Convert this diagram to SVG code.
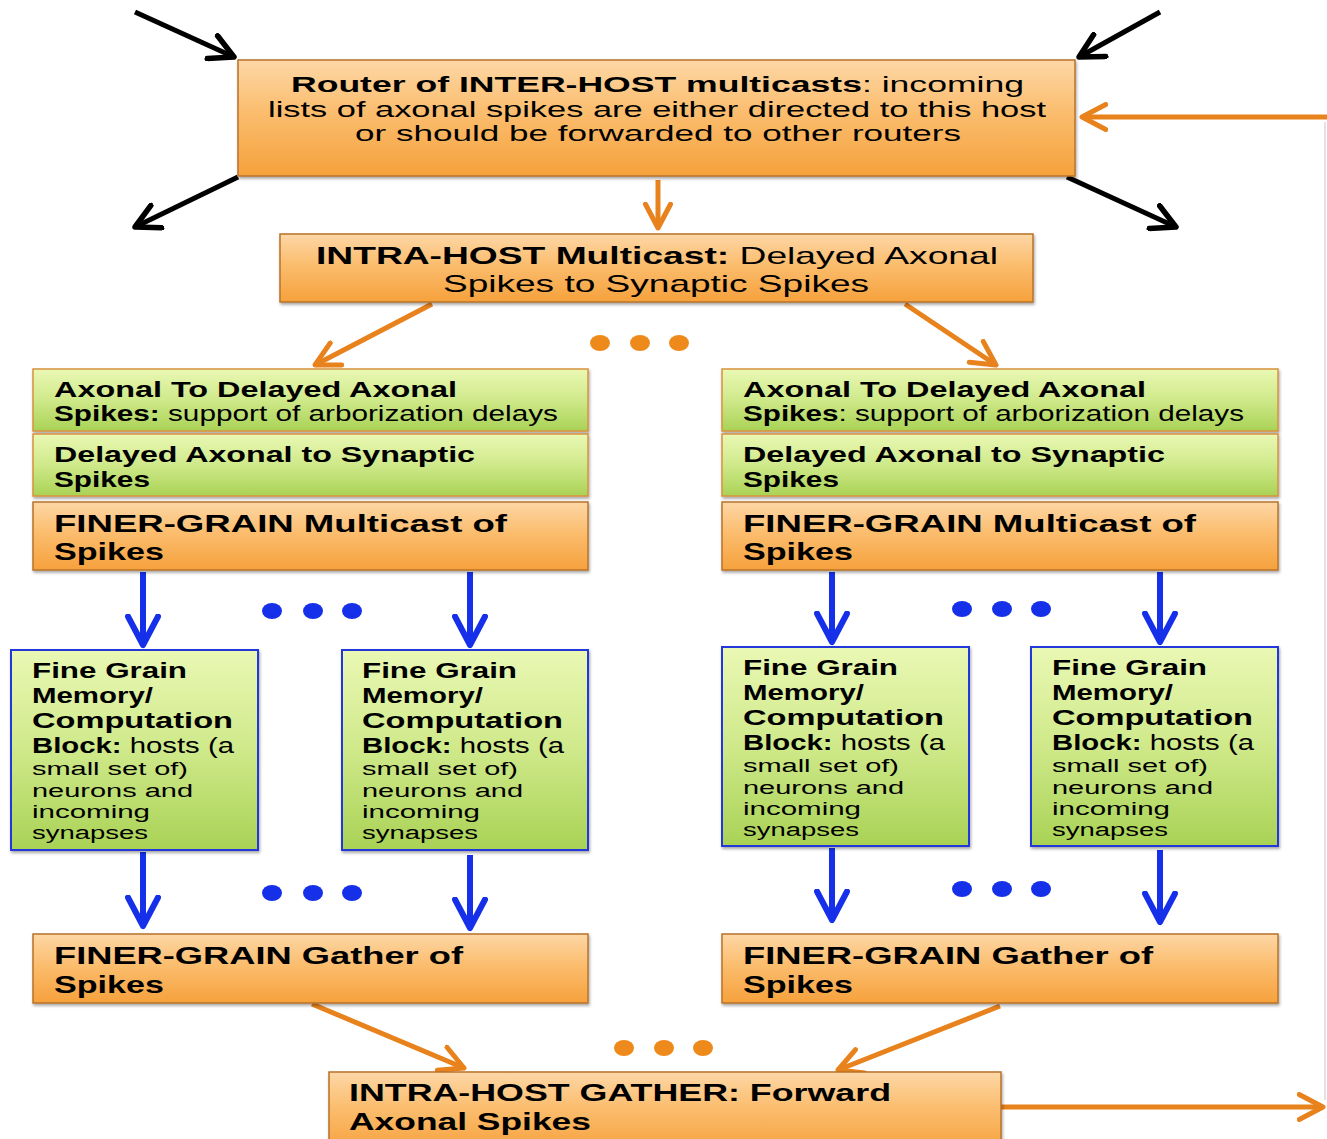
<svg xmlns="http://www.w3.org/2000/svg" width="1327" height="1139" viewBox="0 0 1327 1139">
<defs>
<linearGradient id="gO" x1="0" y1="0" x2="0" y2="1">
<stop offset="0" stop-color="#fdd7a6"/><stop offset="0.45" stop-color="#fbbd6e"/><stop offset="1" stop-color="#f6a13c"/>
</linearGradient>
<linearGradient id="gG" x1="0" y1="0" x2="0" y2="1">
<stop offset="0" stop-color="#eaf8b4"/><stop offset="0.5" stop-color="#cfe98a"/><stop offset="1" stop-color="#a9d255"/>
</linearGradient>
<filter id="sh" x="-5%" y="-5%" width="110%" height="120%">
<feDropShadow dx="1" dy="2" stdDeviation="1.5" flood-color="#000" flood-opacity="0.35"/>
</filter>
<marker id="mK" viewBox="0 0 12 12" refX="10.5" refY="6" markerWidth="6" markerHeight="6" orient="auto" markerUnits="strokeWidth">
<path d="M1,1 L10.5,6 L1,11" fill="none" stroke="#000" stroke-width="2.2" stroke-linecap="round" stroke-linejoin="round"/>
</marker>
<marker id="mO" viewBox="0 0 12 12" refX="10.5" refY="6" markerWidth="6" markerHeight="6" orient="auto" markerUnits="strokeWidth">
<path d="M1,1 L10.5,6 L1,11" fill="none" stroke="#e8821c" stroke-width="2" stroke-linecap="round" stroke-linejoin="round"/>
</marker>
<marker id="mB" viewBox="0 0 12 12" refX="10.5" refY="6" markerWidth="6" markerHeight="6" orient="auto" markerUnits="strokeWidth">
<path d="M1,1 L10.5,6 L1,11" fill="none" stroke="#1530e8" stroke-width="2" stroke-linecap="round" stroke-linejoin="round"/>
</marker>
</defs>
<style>
.or{fill:url(#gO);stroke:#b8732a;stroke-width:1.5;filter:url(#sh)}
.gr{fill:url(#gG);stroke:#d8923e;stroke-width:1.5;filter:url(#sh)}
.gb{fill:url(#gG);stroke:#2038d8;stroke-width:2;filter:url(#sh)}
text{font-family:"Liberation Sans",Arial,sans-serif;fill:#000}
.t24{font-size:24px}
.t22{font-size:22px}
.t18{font-size:18px}
.b{font-weight:bold}
.kl{stroke:#000;stroke-width:5;fill:none;marker-end:url(#mK)}
.ol{stroke:#e8821c;stroke-width:5;fill:none;marker-end:url(#mO)}
.bl{stroke:#1530e8;stroke-width:6;fill:none;marker-end:url(#mB)}
.od{fill:#ee8a1c}
.bd{fill:#1530e8}
</style>
<rect width="1327" height="1139" fill="#fff"/>
<line x1="1325" y1="122" x2="1325" y2="1100" stroke="#e2e2e2" stroke-width="2"/>

<g id="connectors">
<line class="kl" x1="135" y1="12" x2="234" y2="57"/>
<line class="kl" x1="1160" y1="12" x2="1079" y2="57"/>
<line class="kl" x1="238" y1="177" x2="135" y2="227"/>
<line class="kl" x1="1067" y1="177" x2="1176" y2="227"/>
<line class="ol" x1="1327" y1="117" x2="1082" y2="117"/>
<line class="ol" x1="658" y1="180" x2="658" y2="228"/>
<line class="ol" x1="432" y1="304" x2="315" y2="365"/>
<line class="ol" x1="905" y1="304" x2="996" y2="365"/>
<line class="bl" x1="143" y1="572" x2="143" y2="645"/>
<line class="bl" x1="470" y1="572" x2="470" y2="645"/>
<line class="bl" x1="832" y1="572" x2="832" y2="642"/>
<line class="bl" x1="1160" y1="572" x2="1160" y2="642"/>
<line class="bl" x1="143" y1="852" x2="143" y2="926"/>
<line class="bl" x1="470" y1="855" x2="470" y2="928"/>
<line class="bl" x1="832" y1="848" x2="832" y2="920"/>
<line class="bl" x1="1160" y1="850" x2="1160" y2="922"/>
<line class="ol" x1="312" y1="1004" x2="464" y2="1068"/>
<line class="ol" x1="1000" y1="1006" x2="838" y2="1070"/>
<line class="ol" x1="1001" y1="1107" x2="1323" y2="1107"/>
<ellipse class="od" cx="600" cy="343" rx="10" ry="8"/>
<ellipse class="od" cx="640" cy="343" rx="10" ry="8"/>
<ellipse class="od" cx="679" cy="343" rx="10" ry="8"/>
<ellipse class="bd" cx="272" cy="611" rx="10" ry="8"/>
<ellipse class="bd" cx="313" cy="611" rx="10" ry="8"/>
<ellipse class="bd" cx="352" cy="611" rx="10" ry="8"/>
<ellipse class="bd" cx="962" cy="609" rx="10" ry="8"/>
<ellipse class="bd" cx="1002" cy="609" rx="10" ry="8"/>
<ellipse class="bd" cx="1041" cy="609" rx="10" ry="8"/>
<ellipse class="bd" cx="272" cy="893" rx="10" ry="8"/>
<ellipse class="bd" cx="313" cy="893" rx="10" ry="8"/>
<ellipse class="bd" cx="352" cy="893" rx="10" ry="8"/>
<ellipse class="bd" cx="962" cy="889" rx="10" ry="8"/>
<ellipse class="bd" cx="1002" cy="889" rx="10" ry="8"/>
<ellipse class="bd" cx="1041" cy="889" rx="10" ry="8"/>
<ellipse class="od" cx="624" cy="1048" rx="10" ry="8"/>
<ellipse class="od" cx="664" cy="1048" rx="10" ry="8"/>
<ellipse class="od" cx="703" cy="1048" rx="10" ry="8"/>
</g>

<g id="router">
<rect class="or" x="238" y="60" width="837" height="116"/>
<text class="t22" x="291" y="92" textLength="733" lengthAdjust="spacingAndGlyphs"><tspan class="b">Router of INTER-HOST multicasts</tspan>: incoming</text>
<text class="t22" x="268" y="117" textLength="778" lengthAdjust="spacingAndGlyphs">lists of axonal spikes are either directed to this host</text>
<text class="t22" x="355" y="141" textLength="606" lengthAdjust="spacingAndGlyphs">or should be forwarded to other routers</text>
</g>

<g id="intra-multicast">
<rect class="or" x="280" y="234" width="753" height="68"/>
<text class="t24" x="316" y="264" textLength="682" lengthAdjust="spacingAndGlyphs"><tspan class="b">INTRA-HOST Multicast:</tspan> Delayed Axonal</text>
<text class="t24" x="443" y="292" textLength="426" lengthAdjust="spacingAndGlyphs">Spikes to Synaptic Spikes</text>
</g>

<g id="left-delay">
<rect class="gr" x="33" y="369" width="555" height="62"/>
<text class="t22 b" x="54" y="397" textLength="403" lengthAdjust="spacingAndGlyphs">Axonal To Delayed Axonal</text>
<text class="t22" x="54" y="421" textLength="504" lengthAdjust="spacingAndGlyphs"><tspan class="b">Spikes:</tspan> support of arborization delays</text>
</g>
<g id="left-synaptic">
<rect class="gr" x="33" y="434" width="555" height="62"/>
<text class="t22 b" x="54" y="462" textLength="421" lengthAdjust="spacingAndGlyphs">Delayed Axonal to Synaptic</text>
<text class="t22 b" x="54" y="487" textLength="96" lengthAdjust="spacingAndGlyphs">Spikes</text>
</g>
<g id="left-finer-multicast">
<rect class="or" x="33" y="502" width="555" height="68"/>
<text class="t24 b" x="54" y="532" textLength="453" lengthAdjust="spacingAndGlyphs">FINER-GRAIN Multicast of</text>
<text class="t24 b" x="54" y="560" textLength="110" lengthAdjust="spacingAndGlyphs">Spikes</text>
</g>

<g id="right-delay">
<rect class="gr" x="722" y="369" width="556" height="62"/>
<text class="t22 b" x="743" y="397" textLength="403" lengthAdjust="spacingAndGlyphs">Axonal To Delayed Axonal</text>
<text class="t22" x="743" y="421" textLength="501" lengthAdjust="spacingAndGlyphs"><tspan class="b">Spikes</tspan>: support of arborization delays</text>
</g>
<g id="right-synaptic">
<rect class="gr" x="722" y="434" width="556" height="62"/>
<text class="t22 b" x="743" y="462" textLength="422" lengthAdjust="spacingAndGlyphs">Delayed Axonal to Synaptic</text>
<text class="t22 b" x="743" y="487" textLength="96" lengthAdjust="spacingAndGlyphs">Spikes</text>
</g>
<g id="right-finer-multicast">
<rect class="or" x="722" y="502" width="556" height="68"/>
<text class="t24 b" x="743" y="532" textLength="453" lengthAdjust="spacingAndGlyphs">FINER-GRAIN Multicast of</text>
<text class="t24 b" x="743" y="560" textLength="110" lengthAdjust="spacingAndGlyphs">Spikes</text>
</g>

<g id="block-l1">
<rect class="gb" x="11" y="650" width="247" height="200"/>
<text class="t22 b" x="32" y="678" textLength="155" lengthAdjust="spacingAndGlyphs">Fine Grain</text>
<text class="t22 b" x="32" y="703" textLength="121" lengthAdjust="spacingAndGlyphs">Memory/</text>
<text class="t22 b" x="32" y="728" textLength="201" lengthAdjust="spacingAndGlyphs">Computation</text>
<text class="t22" x="32" y="753" textLength="202" lengthAdjust="spacingAndGlyphs"><tspan class="b">Block:</tspan> hosts (a</text>
<text class="t18" x="32" y="775" textLength="156" lengthAdjust="spacingAndGlyphs">small set of)</text>
<text class="t18" x="32" y="797" textLength="161" lengthAdjust="spacingAndGlyphs">neurons and</text>
<text class="t18" x="32" y="818" textLength="118" lengthAdjust="spacingAndGlyphs">incoming</text>
<text class="t18" x="32" y="839" textLength="116" lengthAdjust="spacingAndGlyphs">synapses</text>
</g>
<g id="block-l2">
<rect class="gb" x="342" y="650" width="246" height="200"/>
<text class="t22 b" x="362" y="678" textLength="155" lengthAdjust="spacingAndGlyphs">Fine Grain</text>
<text class="t22 b" x="362" y="703" textLength="121" lengthAdjust="spacingAndGlyphs">Memory/</text>
<text class="t22 b" x="362" y="728" textLength="201" lengthAdjust="spacingAndGlyphs">Computation</text>
<text class="t22" x="362" y="753" textLength="202" lengthAdjust="spacingAndGlyphs"><tspan class="b">Block:</tspan> hosts (a</text>
<text class="t18" x="362" y="775" textLength="156" lengthAdjust="spacingAndGlyphs">small set of)</text>
<text class="t18" x="362" y="797" textLength="161" lengthAdjust="spacingAndGlyphs">neurons and</text>
<text class="t18" x="362" y="818" textLength="118" lengthAdjust="spacingAndGlyphs">incoming</text>
<text class="t18" x="362" y="839" textLength="116" lengthAdjust="spacingAndGlyphs">synapses</text>
</g>
<g id="block-r1">
<rect class="gb" x="722" y="647" width="247" height="199"/>
<text class="t22 b" x="743" y="675" textLength="155" lengthAdjust="spacingAndGlyphs">Fine Grain</text>
<text class="t22 b" x="743" y="700" textLength="121" lengthAdjust="spacingAndGlyphs">Memory/</text>
<text class="t22 b" x="743" y="725" textLength="201" lengthAdjust="spacingAndGlyphs">Computation</text>
<text class="t22" x="743" y="750" textLength="202" lengthAdjust="spacingAndGlyphs"><tspan class="b">Block:</tspan> hosts (a</text>
<text class="t18" x="743" y="772" textLength="156" lengthAdjust="spacingAndGlyphs">small set of)</text>
<text class="t18" x="743" y="794" textLength="161" lengthAdjust="spacingAndGlyphs">neurons and</text>
<text class="t18" x="743" y="815" textLength="118" lengthAdjust="spacingAndGlyphs">incoming</text>
<text class="t18" x="743" y="836" textLength="116" lengthAdjust="spacingAndGlyphs">synapses</text>
</g>
<g id="block-r2">
<rect class="gb" x="1031" y="647" width="247" height="199"/>
<text class="t22 b" x="1052" y="675" textLength="155" lengthAdjust="spacingAndGlyphs">Fine Grain</text>
<text class="t22 b" x="1052" y="700" textLength="121" lengthAdjust="spacingAndGlyphs">Memory/</text>
<text class="t22 b" x="1052" y="725" textLength="201" lengthAdjust="spacingAndGlyphs">Computation</text>
<text class="t22" x="1052" y="750" textLength="202" lengthAdjust="spacingAndGlyphs"><tspan class="b">Block:</tspan> hosts (a</text>
<text class="t18" x="1052" y="772" textLength="156" lengthAdjust="spacingAndGlyphs">small set of)</text>
<text class="t18" x="1052" y="794" textLength="161" lengthAdjust="spacingAndGlyphs">neurons and</text>
<text class="t18" x="1052" y="815" textLength="118" lengthAdjust="spacingAndGlyphs">incoming</text>
<text class="t18" x="1052" y="836" textLength="116" lengthAdjust="spacingAndGlyphs">synapses</text>
</g>

<g id="left-gather">
<rect class="or" x="33" y="934" width="555" height="69"/>
<text class="t24 b" x="54" y="964" textLength="409" lengthAdjust="spacingAndGlyphs">FINER-GRAIN Gather of</text>
<text class="t24 b" x="54" y="993" textLength="110" lengthAdjust="spacingAndGlyphs">Spikes</text>
</g>
<g id="right-gather">
<rect class="or" x="722" y="934" width="556" height="69"/>
<text class="t24 b" x="743" y="964" textLength="410" lengthAdjust="spacingAndGlyphs">FINER-GRAIN Gather of</text>
<text class="t24 b" x="743" y="993" textLength="110" lengthAdjust="spacingAndGlyphs">Spikes</text>
</g>

<g id="intra-gather">
<rect class="or" x="329" y="1072" width="672" height="80"/>
<text class="t24 b" x="349" y="1101" textLength="542" lengthAdjust="spacingAndGlyphs">INTRA-HOST GATHER: Forward</text>
<text class="t24 b" x="349" y="1130" textLength="242" lengthAdjust="spacingAndGlyphs">Axonal Spikes</text>
</g>
</svg>
